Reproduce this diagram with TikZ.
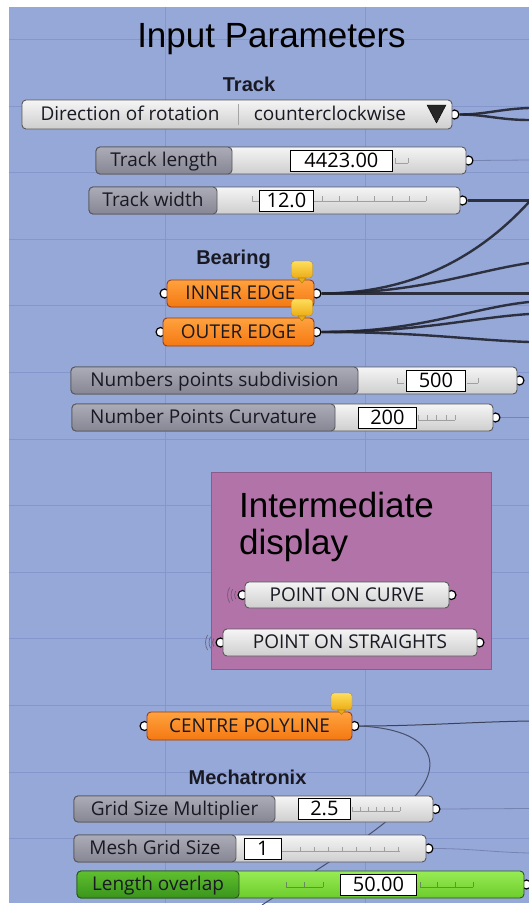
\documentclass[tikz,border=0pt]{standalone}
\usepackage{fontspec}
\setmainfont{Open Sans}
\newfontfamily\headfont{Liberation Sans}
\usepackage{xcolor}
\usetikzlibrary{calc}

\definecolor{canvascol}{RGB}{150,168,216}
\definecolor{gridcol}{RGB}{132,150,204}
\definecolor{wirecol}{RGB}{34,37,47}
\definecolor{thinwirecol}{RGB}{60,66,88}
\definecolor{faintcol}{RGB}{118,132,178}
\definecolor{textcol}{RGB}{25,25,35}
\definecolor{bodyhi}{RGB}{245,245,245}
\definecolor{bodylo}{RGB}{206,206,206}
\definecolor{bodyline}{RGB}{88,88,92}
\definecolor{labelhi}{RGB}{172,172,184}
\definecolor{labello}{RGB}{134,134,148}
\definecolor{orangehi}{RGB}{255,162,62}
\definecolor{orangelo}{RGB}{244,120,18}
\definecolor{orangeline}{RGB}{150,60,24}
\definecolor{taghi}{RGB}{255,222,92}
\definecolor{taglo}{RGB}{236,172,22}
\definecolor{tagline}{RGB}{186,136,20}
\definecolor{greenhi}{RGB}{152,236,84}
\definecolor{greenlo}{RGB}{108,204,44}
\definecolor{greenlabelhi}{RGB}{96,192,46}
\definecolor{greenlabello}{RGB}{58,148,28}
\definecolor{greenline}{RGB}{38,88,24}
\definecolor{groupfill}{RGB}{178,116,168}
\definecolor{groupline}{RGB}{138,92,140}
\definecolor{tickcol}{RGB}{160,160,160}
\definecolor{wavecol}{RGB}{96,80,106}

\newcommand\compfont{\fontsize{19}{22}\selectfont}
\newcommand\valuefont{\fontsize{20}{22}\selectfont}

\pgfdeclarelayer{canvas}
\pgfdeclarelayer{links}
\pgfsetlayers{canvas,links,main}

\tikzset{
	gridline/.style={draw=gridcol, line width=0.8pt},
	wire/.style={draw=wirecol, line width=2.4pt, opacity=0.9},
	thinwire/.style={draw=thinwirecol, line width=1pt},
	faintwire/.style={draw=faintcol, line width=0.8pt},
	port/.style={circle, draw=black, fill=white, line width=1.2pt, inner sep=0pt, minimum size=9pt},
	outport/.style={port, xshift=2pt},
	inport/.style={port, xshift=-2pt},
	comptext/.style={font=\compfont, inner sep=0pt, text height=16pt, text depth=4pt, text=textcol},
	comp/.style={comptext, rounded corners=4pt, minimum height=27pt, line width=0.9pt},
	slider/.style={comp, draw=bodyline, top color=bodyhi, bottom color=bodylo},
	sliderlabel/.style={comp, draw=bodyline, top color=labelhi, bottom color=labello, anchor=west},
	greenslider/.style={comp, draw=greenline, top color=greenhi, bottom color=greenlo},
	greenlabel/.style={comp, draw=greenline, top color=greenlabelhi, bottom color=greenlabello, anchor=west},
	valuebox/.style={draw=black, fill=white, line width=0.8pt, inner sep=0pt, minimum height=21pt, font=\valuefont, text height=16pt, text depth=3pt, anchor=west},
	param/.style={comp, draw=orangeline, top color=orangehi, bottom color=orangelo},
	panelbox/.style={comp, draw=bodyline, top color=bodyhi, bottom color=bodylo},
	tagbox/.style={draw=tagline, top color=taghi, bottom color=taglo, rounded corners=3pt, minimum width=21pt, minimum height=17pt, inner sep=0pt},
	tagnotch/.style={fill=taglo, draw=tagline, line width=0.6pt},
	groupbox/.style={draw=groupline, fill=groupfill, line width=1pt, inner sep=0pt, anchor=north west},
	ticks/.style={draw=tickcol, line width=0.6pt},
	greenticks/.style={draw=greenline!70, line width=0.6pt},
	wireless/.style={draw=wavecol, line width=0.7pt, opacity=0.8},
	sectiontitle/.style={font=\headfont\bfseries\fontsize{20}{24}\selectfont, anchor=base, inner sep=0pt, text=textcol},
	bigtitle/.style={font=\headfont\fontsize{35}{40}\selectfont, anchor=base, inner sep=0pt, text=black}
}

\begin{document}
\begin{tikzpicture}[x=1pt,y=-1pt]
	\useasboundingbox (0,0) rectangle (529,905);

	\begin{pgfonlayer}{canvas}
		% Draw the canvas and its grid
		\fill[white] (0,0) rectangle (529,905);
		\fill[canvascol] (9,7) rectangle (529,903);
		\draw[gridline] (165,7) -- (165,903) (365,7) -- (365,903);
		\draw[gridline] (9,39.3) -- (529,39.3) (9,105.9) -- (529,105.9) (9,172.5) -- (529,172.5)
			(9,239.1) -- (529,239.1) (9,305.7) -- (529,305.7) (9,372.3) -- (529,372.3)
			(9,438.9) -- (529,438.9) (9,505.5) -- (529,505.5) (9,572.1) -- (529,572.1)
			(9,638.7) -- (529,638.7) (9,705.3) -- (529,705.3) (9,771.9) -- (529,771.9)
			(9,838.5) -- (529,838.5);

		% Draw the display group
		\node[groupbox, minimum width=280pt, minimum height=197pt] (display) at (211,472) {};
	\end{pgfonlayer}

	% Draw the title
	\node[bigtitle] (inputtitle) at (271.5,47) {Input Parameters};

	% Draw the track parameters
	\node[sectiontitle] (tracktitle) at (249,91.5) {Track};
	\node[slider, minimum width=430pt, minimum height=29pt] (dir) at (237,114.5) {};
	\node[comptext] (dirlabel) at (130,114.5) {Direction of rotation};
	\node[comptext] (dirvalue) at (330,114.5) {counterclockwise};
	\draw[draw=bodylo!80!black, line width=0.6pt] (238,104) -- (238,125);
	\filldraw[fill=black!85, draw=black] (427,105) -- (446,105) -- (436.5,123) -- cycle;

	\node[slider, minimum width=370pt] (tlen) at (281,160.5) {};
	\draw[ticks] (395,163) -- (408,163) (395,163) -- ++(0,-5) (408,163) -- ++(0,-5);
	\node[sliderlabel, minimum width=136pt] (tlenlabel) at (tlen.west) {Track length};
	\node[valuebox, minimum width=102pt] (tlenvalue) at (290,160.5) {4423.00};

	\node[slider, minimum width=371pt] (twid) at (274.5,200.5) {};
	\draw[ticks] (252,201) -- (426,201) (252,201) -- ++(0,-5) (322,201) -- ++(0,-5)
		(339,201) -- ++(0,-5) (357,201) -- ++(0,-5) (374,201) -- ++(0,-5)
		(392,201) -- ++(0,-5) (409,201) -- ++(0,-5) (426,201) -- ++(0,-5);
	\node[sliderlabel, minimum width=128pt] (twidlabel) at (twid.west) {Track width};
	\node[valuebox, minimum width=54pt] (twidvalue) at (259,200.5) {12.0};

	% Draw the bearing edges
	\node[sectiontitle] (bearingtitle) at (233.5,264.5) {Bearing};
	\node[param, minimum width=147pt] (inner) at (240.5,293.5) {INNER EDGE};
	\node[tagbox] (innertag) at (302,269.5) {};
	\filldraw[tagnotch] (298,278) -- (306,278) -- (302,283) -- cycle;
	\node[param, minimum width=151pt, minimum height=28pt] (outer) at (238.5,332) {OUTER EDGE};
	\node[tagbox] (outertag) at (302,307.5) {};
	\filldraw[tagnotch] (298,316) -- (306,316) -- (302,321) -- cycle;

	% Draw the point counts
	\node[slider, minimum width=446pt] (nsub) at (294,380.5) {};
	\draw[ticks] (397,383) -- (404,383) (397,383) -- ++(0,-5) (467,383) -- (478,383) (478,383) -- ++(0,-5);
	\node[sliderlabel, minimum width=287pt] (nsublabel) at (nsub.west) {Numbers points subdivision};
	\node[valuebox, minimum width=59pt] (nsubvalue) at (406,380.5) {500};

	\node[slider, minimum width=421pt] (ncurv) at (282.5,417.5) {};
	\draw[ticks] (418,420) -- (455,420) (418,420) -- ++(0,-5) (427,420) -- ++(0,-5)
		(436,420) -- ++(0,-5) (446,420) -- ++(0,-5) (455,420) -- ++(0,-5);
	\node[sliderlabel, minimum width=263pt] (ncurvlabel) at (ncurv.west) {Number Points Curvature};
	\node[valuebox, minimum width=58pt] (ncurvvalue) at (358,417.5) {200};

	% Draw the intermediate display
	\node[bigtitle, anchor=base west] (displaytitle) at (239,517) {Intermediate};
	\node[bigtitle, anchor=base west] (displaytitlenext) at (239,554) {display};
	\node[panelbox, minimum width=204pt, minimum height=26pt] (pcurve) at (347,595) {POINT ON CURVE};
	\node[panelbox, minimum width=254pt] (pstraight) at (350,642.5) {POINT ON STRAIGHTS};

	% Draw the centre polyline
	\node[param, minimum width=205pt, minimum height=28pt] (centre) at (249.5,726) {CENTRE POLYLINE};
	\node[tagbox] (centretag) at (341.5,701.5) {};
	\filldraw[tagnotch] (337.5,710) -- (345.5,710) -- (341.5,714.5) -- cycle;

	% Draw the mechatronix parameters
	\node[sectiontitle] (mechtitle) at (247.5,784.5) {Mechatronix};
	\node[slider, minimum width=359pt, minimum height=26pt] (gsize) at (253.5,809) {};
	\draw[ticks] (352,811) -- (400,811) (352,811) -- ++(0,-4) (360,811) -- ++(0,-4)
		(368,811) -- ++(0,-4) (376,811) -- ++(0,-4) (384,811) -- ++(0,-4)
		(392,811) -- ++(0,-4) (400,811) -- ++(0,-4);
	\node[sliderlabel, minimum width=201pt, minimum height=26pt] (gsizelabel) at (gsize.west) {Grid Size Multiplier};
	\node[valuebox, minimum width=52pt] (gsizevalue) at (298,809) {2.5};

	\node[slider, minimum width=352pt] (mgrid) at (250,848.5) {};
	\draw[ticks] (282,851) -- (400,851) (300,851) -- ++(0,-4) (314,851) -- ++(0,-4)
		(328,851) -- ++(0,-4) (342,851) -- ++(0,-4) (356,851) -- ++(0,-4)
		(370,851) -- ++(0,-4) (384,851) -- ++(0,-4) (398,851) -- ++(0,-4);
	\node[sliderlabel, minimum width=162pt] (mgridlabel) at (mgrid.west) {Mesh Grid Size};
	\node[valuebox, minimum width=37pt] (mgridvalue) at (244,848.5) {1};

	\node[greenslider, minimum width=447pt] (lover) at (300.5,884.5) {};
	\draw[greenticks] (286,887) -- (323,887) (286,887) -- ++(0,-5) (304.5,887) -- ++(0,-5) (323,887) -- ++(0,-5)
		(420,887) -- (473,887) (420,887) -- ++(0,-5) (437.7,887) -- ++(0,-5)
		(455.3,887) -- ++(0,-5) (473,887) -- ++(0,-5);
	\node[greenlabel, minimum width=162pt] (loverlabel) at (lover.west) {Length overlap};
	\node[valuebox, minimum width=76pt] (lovervalue) at (340,884.5) {50.00};

	\begin{pgfonlayer}{links}
		% Draw the ports
		\node[outport] (dirout) at (dir.east) {};
		\node[outport] (tlenout) at (tlen.east) {};
		\node[outport] (twidout) at (twid.east) {};
		\node[inport] (innerin) at (inner.west) {};
		\node[outport] (innerout) at (inner.east) {};
		\node[inport] (outerin) at (outer.west) {};
		\node[outport] (outerout) at (outer.east) {};
		\node[outport] (nsubout) at (nsub.east) {};
		\node[outport] (ncurvout) at (ncurv.east) {};
		\node[inport] (pcurvein) at (pcurve.west) {};
		\node[outport] (pcurveout) at (pcurve.east) {};
		\node[inport] (pstraightin) at (pstraight.west) {};
		\node[outport] (pstraightout) at (pstraight.east) {};
		\node[inport] (centrein) at (centre.west) {};
		\node[outport] (centreout) at (centre.east) {};
		\node[outport] (gsizeout) at (gsize.east) {};
		\node[outport] (mgridout) at (mgrid.east) {};
		\node[outport] (loverout) at (lover.east) {};

		% Draw the wireless marks
		\draw[wireless] (pcurvein.center) ++(150:8) arc[start angle=150, end angle=210, radius=8]
			(pcurvein.center) ++(150:11.5) arc[start angle=150, end angle=210, radius=11.5]
			(pcurvein.center) ++(150:15) arc[start angle=150, end angle=210, radius=15];
		\draw[wireless] (pstraightin.center) ++(150:8) arc[start angle=150, end angle=210, radius=8]
			(pstraightin.center) ++(150:11.5) arc[start angle=150, end angle=210, radius=11.5]
			(pstraightin.center) ++(150:15) arc[start angle=150, end angle=210, radius=15];

		% Draw the wire ends at the border
		\coordinate (dirend1) at (529,108);
		\coordinate (dirend2) at (529,120);
		\coordinate (tlenend) at (529,160);
		\coordinate (twidend) at (529,200.5);
		\coordinate (innerend1) at (529,202);
		\coordinate (innerend2) at (529,263);
		\coordinate (innerend3) at (529,293.5);
		\coordinate (outerend1) at (529,302);
		\coordinate (outerend2) at (529,314);
		\coordinate (outerend3) at (529,342);
		\coordinate (ncurvend) at (529,417.5);
		\coordinate (centreend1) at (529,721);
		\coordinate (centrebend) at (400,810);
		\coordinate (centreend2) at (262,905);
		\coordinate (gsizeend) at (529,808.5);
		\coordinate (mgridend) at (529,853);

		% Draw the wires
		\draw[wire] (dirout.east) .. controls (485,114.5) and (500,109) .. (dirend1);
		\draw[wire] (dirout.east) .. controls (485,114.5) and (500,120) .. (dirend2);
		\draw[faintwire] (tlenout.east) -- (tlenend);
		\draw[wire] (twidout.east) -- (twidend);
		\draw[wire] (innerout.east) .. controls (420,293.5) and (485,250) .. (innerend1);
		\draw[wire] (innerout.east) .. controls (420,293) and (470,272) .. (innerend2);
		\draw[wire] (innerout.east) -- (innerend3);
		\draw[wire] (outerout.east) .. controls (420,332) and (470,308) .. (outerend1);
		\draw[wire] (outerout.east) .. controls (420,332) and (470,318) .. (outerend2);
		\draw[wire] (outerout.east) .. controls (420,332) and (470,340) .. (outerend3);
		\draw[faintwire] (ncurvout.east) -- (ncurvend);
		\draw[thinwire] (centreout.east) .. controls (420,726) and (470,722) .. (centreend1);
		\draw[thinwire, draw=faintcol!60!black] (centreout.east) .. controls (445,730) and (445,775) .. (centrebend)
			.. controls (360,845) and (300,880) .. (centreend2);
		\draw[faintwire] (gsizeout.east) -- (gsizeend);
		\draw[faintwire] (mgridout.east) .. controls (470,848.5) and (490,852) .. (mgridend);
	\end{pgfonlayer}
\end{tikzpicture}
\end{document}
